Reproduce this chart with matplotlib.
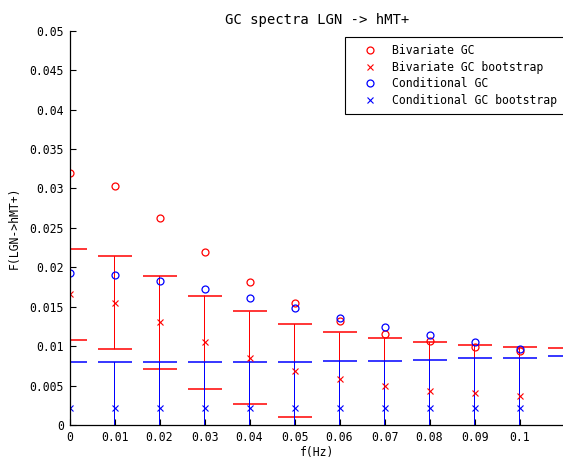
import numpy as np
import matplotlib
matplotlib.use('Agg')
import matplotlib.pyplot as plt

plt.rcParams['font.family'] = 'DejaVu Sans Mono'
plt.rcParams['font.size'] = 8.3

freqs = [0, 0.01, 0.02, 0.03, 0.04, 0.05, 0.06, 0.07, 0.08, 0.09, 0.10, 0.11]

# GC values
biv_gc = [0.0320, 0.0303, 0.0263, 0.0219, 0.0181, 0.0155, 0.0132, 0.0116, 0.01065, 0.00985, 0.0094, 0.0091]
cond_gc = [0.0193, 0.0190, 0.0183, 0.0172, 0.0161, 0.0148, 0.0136, 0.0124, 0.0114, 0.0105, 0.0096, 0.0093]

# bootstrap means and error (symmetric)
biv_boot = [0.01655, 0.0155, 0.0130, 0.0105, 0.0085, 0.0069, 0.00583, 0.0050, 0.00435, 0.0040, 0.0037, 0.0035]
biv_boot_err = [0.0058, 0.0059, 0.0059, 0.0059, 0.0059, 0.0059, 0.0059, 0.0060, 0.0062, 0.0061, 0.0062, 0.0063]
cond_boot = [0.0022, 0.0022, 0.0022, 0.0022, 0.0022, 0.0022, 0.0022, 0.0022, 0.0022, 0.0022, 0.0022, 0.0023]
cond_boot_err = [0.0058, 0.0058, 0.0058, 0.0058, 0.0058, 0.0058, 0.00595, 0.00595, 0.0061, 0.00625, 0.0063, 0.0064]

fig = plt.figure(figsize=(5.63, 4.62), dpi=100)
# axes placed so every 0.01 step lands on a pixel centre (45 px per step)
ax = fig.add_axes([69.5 / 563, 37 / 462, 495 / 563, 394.3 / 462])

# last frequency sits on the cropped edge in the original, only its error caps show
n = len(freqs) - 1
h1, = ax.plot(freqs[:n], biv_gc[:n], 'o', color='r', mfc='none', ms=5, mew=0.9, label='Bivariate GC')
h2, = ax.plot(freqs[:n], biv_boot[:n], 'x', color='r', ms=4, mew=0.8, label='Bivariate GC bootstrap')
h3, = ax.plot(freqs[:n], cond_gc[:n], 'o', color='b', mfc='none', ms=5, mew=0.9, label='Conditional GC')
h4, = ax.plot(freqs[:n], cond_boot[:n], 'x', color='b', ms=4, mew=0.8, label='Conditional GC bootstrap')

# error bars, blue drawn over red
for y, e, c, z in [(biv_boot, biv_boot_err, 'r', 1.5), (cond_boot, cond_boot_err, 'b', 1.6)]:
    eb = ax.errorbar(freqs, y, yerr=e, fmt='none', ecolor=c, elinewidth=0.72,
                     capsize=12, capthick=1.1, zorder=z)
    for bl in eb[2]:
        bl.set_snap(False)

ax.set_xlim(0, 0.11)
ax.set_ylim(0, 0.05)
ax.set_xticks(np.arange(0, 0.1001, 0.01))
ax.set_xticklabels(['0', '0.01', '0.02', '0.03', '0.04', '0.05', '0.06', '0.07', '0.08', '0.09', '0.1'])
ax.set_yticks(np.arange(0, 0.0501, 0.005))
ax.set_yticklabels(['0', '0.005', '0.01', '0.015', '0.02', '0.025', '0.03', '0.035', '0.04', '0.045', '0.05'])
ax.tick_params(direction='in', length=4, width=0.8, pad=4)
for s in ['top', 'right']:
    ax.spines[s].set_visible(False)
for s in ['left', 'bottom']:
    ax.spines[s].set_linewidth(0.9)

ax.set_title('GC spectra LGN -> hMT+', pad=5)
ax.set_xlabel('f(Hz)', labelpad=2)
ax.set_ylabel('F(LGN->hMT+)', labelpad=6)

leg = fig.legend(handles=[h1, h2, h3, h4], loc='upper left',
                 bbox_to_anchor=(345 / 563, 1 - 37.3 / 462), borderaxespad=0,
                 fancybox=False, framealpha=1, edgecolor='k', borderpad=0.6,
                 handlelength=3.1, handletextpad=0.35, labelspacing=0.3)
leg.get_frame().set_linewidth(0.8)

fig.savefig('out.png', dpi=100)
